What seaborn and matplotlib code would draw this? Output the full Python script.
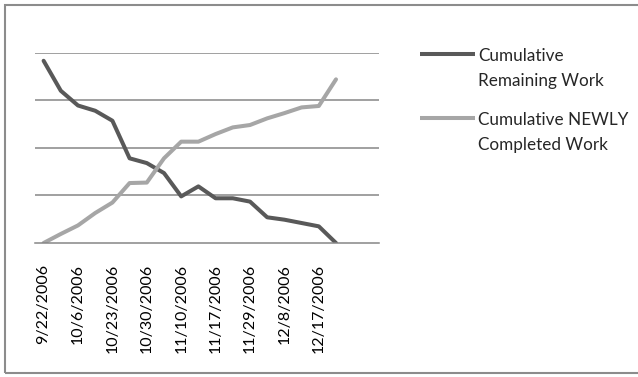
import numpy as np
import pandas as pd
import matplotlib.pyplot as plt
import seaborn as sns
from matplotlib.patches import Rectangle
from matplotlib.lines import Line2D

dates = ["9/22/2006", "9/29/2006", "10/6/2006", "10/13/2006", "10/23/2006",
         "10/26/2006", "10/30/2006", "11/3/2006", "11/10/2006", "11/14/2006",
         "11/17/2006", "11/22/2006", "11/29/2006", "12/4/2006", "12/8/2006",
         "12/12/2006", "12/17/2006", "12/22/2006"]
remaining = [3.83, 3.20, 2.89, 2.78, 2.57, 1.78, 1.68, 1.47, 0.98, 1.19,
             0.94, 0.94, 0.87, 0.54, 0.49, 0.42, 0.35, 0.0]
completed = [0.0, 0.19, 0.37, 0.63, 0.85, 1.26, 1.27, 1.78, 2.13, 2.13,
             2.29, 2.43, 2.48, 2.62, 2.73, 2.85, 2.88, 3.44]
series_names = ["Cumulative\nRemaining Work", "Cumulative NEWLY\nCompleted Work"]
n_categories = 20  # two empty categories at the end

dark = "#595959"
light = "#a6a6a6"
grid_c = "#868686"

df = pd.DataFrame({
    "idx": list(range(len(dates))) * 2,
    "value": remaining + completed,
    "series": [series_names[0]] * len(dates) + [series_names[1]] * len(dates),
})

sns.set_style("white")
plt.rcParams["font.family"] = ["Lato", "DejaVu Sans"]

fig = plt.figure(figsize=(6.38, 3.77), dpi=100)
ax = fig.add_axes([35 / 638, 1 - 243 / 377, 344 / 638, 190.3 / 377])

sns.lineplot(data=df, x="idx", y="value", hue="series", hue_order=series_names,
             palette=[dark, light], linewidth=2.9, legend=False, ax=ax,
             solid_capstyle="round", solid_joinstyle="round")

ax.set_xlim(-0.5, n_categories - 0.5)
ax.set_ylim(0, 4)
ax.set_yticks([1, 2, 3, 4])
ax.set_yticklabels([])
ax.tick_params(axis="y", length=0)
ax.yaxis.grid(True, color=grid_c, linewidth=1.1)
ax.set_axisbelow(True)

ax.set_xticks(np.arange(-0.5, n_categories, 1))
ax.set_xticklabels([])
ax.tick_params(axis="x", which="major", direction="out", length=3.6,
               width=1.0, color=grid_c)
ax.set_xticks(range(0, len(dates), 2), minor=True)
ax.set_xticklabels(dates[::2], minor=True, rotation=90, fontsize=11.5, color="black")
ax.tick_params(axis="x", which="minor", length=0, pad=15)
ax.set_xlabel("")
ax.set_ylabel("")

for s in ["top", "right", "left"]:
    ax.spines[s].set_visible(False)
ax.spines["bottom"].set_color(grid_c)
ax.spines["bottom"].set_linewidth(1.1)

# legend drawn at the right
W, H = 638, 377
for name, col, y in zip(series_names, [dark, light], [54, 118]):
    fig.add_artist(Line2D([420 / W, 475 / W], [1 - y / H, 1 - y / H],
                          color=col, linewidth=2.9, solid_capstyle="butt"))
    fig.text(478 / W, 1 - (y - 6) / H, name, fontsize=12.3, va="top",
             ha="left", linespacing=1.7)

fig.add_artist(Rectangle((5 / W, 4 / H), 1.0, 1 - 9 / H, transform=fig.transFigure,
                         fill=False, edgecolor="#8c8c8c", linewidth=1.5))

fig.savefig("out.png", dpi=100)
